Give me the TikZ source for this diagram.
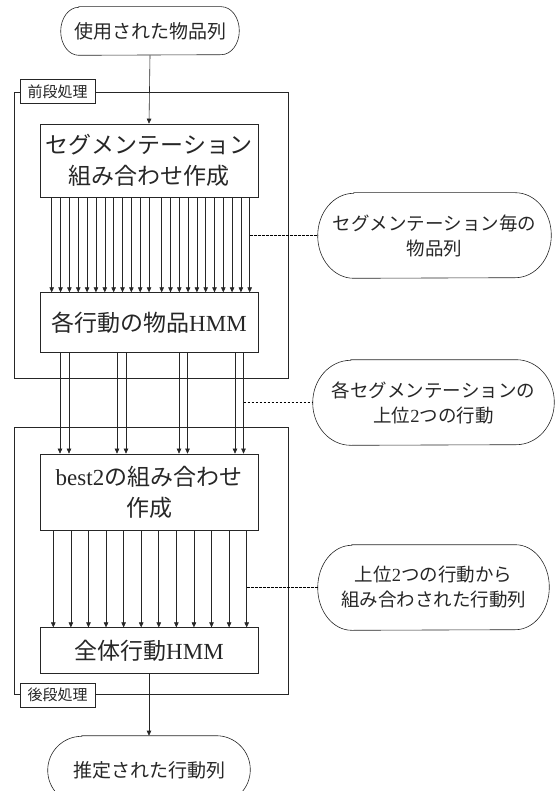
\documentclass[tikz,border=0pt]{standalone}
\usepackage{fontspec}
\setmainfont{Liberation Serif}
\newfontfamily\cjk{Noto Sans CJK JP}
\usetikzlibrary{arrows.meta}
\newcommand\pillshape[3]{%
  \draw ([xshift=#2]#1.north west) -- ([xshift=-#2]#1.north east)
    arc[start angle=90,end angle=-90,x radius=#2,y radius=#3]
    -- ([xshift=#2]#1.south west)
    arc[start angle=270,end angle=90,x radius=#2,y radius=#3] -- cycle;}
\begin{document}
\begin{tikzpicture}[x=1pt,y=1pt,
  line width=0.6pt, draw=black!85, text=black!85,
  box/.style={draw, rectangle, minimum width=218pt, inner sep=0pt, align=center,
    font=\fontsize{23}{31}\selectfont},
  term/.style={rectangle, inner sep=0pt, align=center},
  ell/.style={term, font=\fontsize{18.5}{25}\selectfont\cjk},
  framebox/.style={draw, rectangle, inner sep=0pt, minimum width=274pt},
  tag/.style={draw, fill=white, rectangle, inner sep=0pt, minimum width=75pt,
    minimum height=24pt, font=\fontsize{15}{18}\selectfont\cjk},
  arr/.style={-{Triangle[length=5pt,width=4.5pt]}},
  dashline/.style={line width=0.9pt, draw=black, dash pattern=on 2.8pt off 1.2pt}
]
\useasboundingbox (0,0) rectangle (555,-791);
\clip (0,0) rectangle (555,-791);

% frames
\node[framebox, minimum height=286pt] (f1) at (151,-235) {};
\node[framebox, minimum height=267pt] (f2) at (151,-560.5) {};

% terminals
\node[term, minimum width=178pt, minimum height=48pt, font=\fontsize{19}{23}\selectfont\cjk] (t1) at (150,-31) {使用された物品列};
\pillshape{t1}{18pt}{24pt}
\node[term, minimum width=202pt, minimum height=68pt, font=\fontsize{19}{23}\selectfont\cjk] (t2) at (149,-770) {推定された行動列};
\pillshape{t2}{34pt}{34pt}

% boxes
\node[box, minimum height=73pt] (b1) at (149,-160.5) {\cjk セグメンテーション\\\cjk 組み合わせ作成};
\node[box, minimum height=59.3pt] (b2) at (149,-322.3) {{\cjk 各行動の物品}HMM};
\node[box, minimum height=76.7pt] (b3) at (149,-492.3) {best2{\cjk の組み合わせ}\\\cjk 作成};
\node[box, minimum height=45.6pt] (b4) at (149,-650.5) {{\cjk 全体行動}HMM};

% tags
\node[tag] (g1) at (57.5,-91.5) {前段処理};
\node[tag] (g2) at (57.5,-695) {後段処理};

% annotation pills
\node[ell, minimum width=233pt, minimum height=85pt] (e1) at (434.5,-235.5) {セグメンテーション毎の\\物品列};
\pillshape{e1}{36pt}{42.5pt}
\node[ell, minimum width=241pt, minimum height=85pt] (e2) at (433.5,-402.5) {各セグメンテーションの\\上位{\rmfamily 2}つの行動};
\pillshape{e2}{38pt}{42.5pt}
\node[ell, minimum width=231pt, minimum height=85pt] (e3) at (433.5,-587.5) {上位{\rmfamily 2}つの行動から\\組み合わされた行動列};
\pillshape{e3}{34pt}{42.5pt}

% connectors
\draw[arr] (t1.south) -- (b1.north);
\draw[arr] (b4.south) -- (t2.north);
\foreach \i in {0,...,11}{\pgfmathsetmacro\dx{-97.3+8.85*\i}
  \draw[arr] ([xshift=\dx pt]b1.south) -- ([xshift=\dx pt]b2.north);}
\foreach \i in {0,...,10}{\pgfmathsetmacro\dx{12.7+8.8*\i}
  \draw[arr] ([xshift=\dx pt]b1.south) -- ([xshift=\dx pt]b2.north);}
\foreach \x in {60,69,117,126,179,187.5,235,243.5}{\pgfmathsetmacro\dx{\x-149}
  \draw[arr] ([xshift=\dx pt]b2.south) -- ([xshift=\dx pt]b3.north);}
\foreach \i in {0,...,11}{\pgfmathsetmacro\dx{53.3+17.58*\i-149}
  \draw[arr] ([xshift=\dx pt]b3.south) -- ([xshift=\dx pt]b4.north);}

% dashed leaders
\coordinate (d1) at (249.7,-235.5);
\coordinate (d2) at (243.5,-402.5);
\coordinate (d3) at (246.7,-587.5);
\draw[dashline] (d1) -- (e1.west);
\draw[dashline] (d2) -- (e2.west);
\draw[dashline] (d3) -- (e3.west);
\end{tikzpicture}
\end{document}
